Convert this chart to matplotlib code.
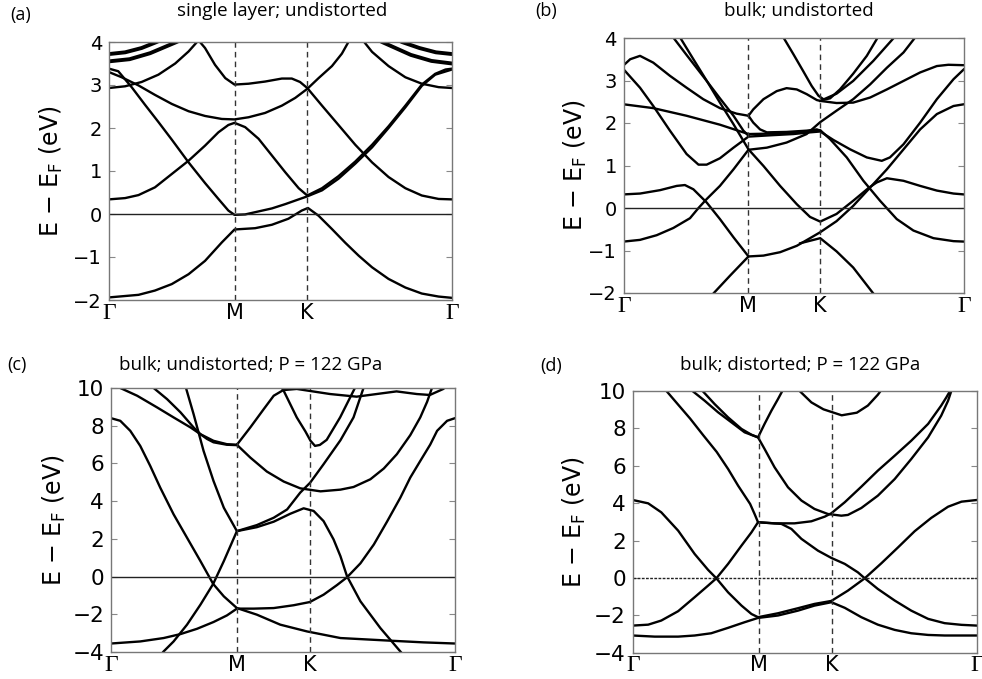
import matplotlib
matplotlib.use("Agg")
import matplotlib.pyplot as plt

# path Γ-M-K-Γ, positions as a fraction of the total path length
k_sym = [0.0, 0.366, 0.578, 1.0]
k_names = ["Γ", "M", "K", "Γ"]

# ---------------- (a) single layer; undistorted ----------------
a_low = ([0, 0.086, 0.134, 0.183, 0.232, 0.280, 0.329, 0.366, 0.426, 0.475, 0.523, 0.562, 0.580,
          0.611, 0.650, 0.689, 0.728, 0.767, 0.815, 0.864, 0.912, 0.961, 1.0],
         [-1.94, -1.88, -1.78, -1.63, -1.40, -1.09, -0.66, -0.36, -0.33, -0.25, -0.11, 0.08, 0.14,
          -0.04, -0.35, -0.67, -0.97, -1.24, -1.51, -1.71, -1.85, -1.92, -1.95])
a_up1 = ([0, 0.047, 0.086, 0.134, 0.183, 0.232, 0.280, 0.319, 0.348, 0.366, 0.397, 0.436, 0.475,
          0.514, 0.553, 0.578, 0.621, 0.669, 0.718, 0.767, 0.815, 0.864, 0.912, 0.951, 0.981, 1.0],
         [0.34, 0.37, 0.44, 0.62, 0.93, 1.24, 1.59, 1.90, 2.07, 2.12, 2.02, 1.75, 1.36,
          0.97, 0.60, 0.43, 0.60, 0.88, 1.22, 1.61, 2.04, 2.52, 3.01, 3.26, 3.36, 3.38])
a_up2 = ([0, 0.027, 0.066, 0.105, 0.144, 0.183, 0.232, 0.280, 0.319, 0.348, 0.366, 0.397, 0.436,
          0.475, 0.514, 0.553, 0.578, 0.621, 0.669, 0.718, 0.767, 0.815, 0.864, 0.912, 0.951, 1.0],
         [3.38, 3.32, 2.95, 2.54, 2.14, 1.73, 1.20, 0.72, 0.35, 0.08, -0.02, -0.01, 0.06,
          0.13, 0.23, 0.34, 0.41, 0.55, 0.82, 1.17, 1.55, 2.00, 2.48, 2.98, 3.24, 3.36])
a_up3 = ([0, 0.037, 0.086, 0.134, 0.183, 0.232, 0.280, 0.329, 0.366, 0.407, 0.455, 0.504, 0.543,
          0.578, 0.611, 0.650, 0.679, 0.698, 0.713],
         [3.30, 3.18, 2.99, 2.77, 2.56, 2.39, 2.28, 2.21, 2.20, 2.25, 2.35, 2.52, 2.70,
          2.91, 3.16, 3.44, 3.73, 4.00, 4.19])
a_up4 = ([0, 0.047, 0.095, 0.144, 0.193, 0.232, 0.261, 0.280, 0.309, 0.339, 0.366, 0.407, 0.455,
          0.504, 0.533, 0.557, 0.578, 0.621, 0.669, 0.718, 0.767, 0.815, 0.864, 0.912, 0.961, 1.0],
         [2.93, 2.97, 3.07, 3.24, 3.50, 3.78, 4.04, 3.86, 3.47, 3.16, 3.01, 3.03, 3.08,
          3.15, 3.15, 3.07, 2.93, 2.52, 2.07, 1.61, 1.20, 0.86, 0.60, 0.43, 0.35, 0.34])
a_up5 = ([1.0, 0.961, 0.912, 0.864, 0.815, 0.767, 0.742, 0.728],
         [2.93, 2.95, 3.03, 3.18, 3.44, 3.77, 4.02, 4.19])
# heavy arcs near Γ at the top of the window
a_arc1 = ([0, 0.047, 0.095, 0.139, 0.160], [3.72, 3.76, 3.86, 4.00, 4.08])
a_arc2 = ([0, 0.060, 0.120, 0.197, 0.215], [3.55, 3.60, 3.74, 4.00, 4.07])
a_arc3 = ([1.0, 0.953, 0.905, 0.854, 0.835], [3.72, 3.76, 3.86, 4.00, 4.08])
a_arc4 = ([1.0, 0.940, 0.880, 0.796, 0.780], [3.50, 3.56, 3.70, 4.00, 4.07])

# ---------------- (b) bulk; undistorted ----------------
b_1 = ([0, 0.019, 0.048, 0.087, 0.136, 0.185, 0.234, 0.283, 0.332, 0.367, 0.381, 0.411, 0.450, 0.479,
        0.509, 0.538, 0.568, 0.578, 0.626, 0.675, 0.725, 0.774, 0.823, 0.872, 0.921, 0.955, 1.0],
       [3.36, 3.50, 3.58, 3.42, 3.11, 2.83, 2.56, 2.35, 2.22, 2.17, 2.32, 2.56, 2.75, 2.82,
        2.79, 2.68, 2.54, 2.52, 2.47, 2.48, 2.60, 2.79, 2.99, 3.19, 3.34, 3.37, 3.36])
b_2 = ([0, 0.048, 0.087, 0.136, 0.185, 0.220, 0.244, 0.283, 0.323, 0.367, 0.430, 0.499, 0.548, 0.578,
        0.617, 0.666, 0.715, 0.759, 0.783, 0.823, 0.872, 0.921, 0.970, 1.0],
       [3.26, 2.83, 2.40, 1.82, 1.27, 1.02, 1.02, 1.17, 1.42, 1.68, 1.71, 1.74, 1.78, 1.80,
        1.60, 1.38, 1.19, 1.11, 1.19, 1.50, 2.01, 2.56, 3.03, 3.26])
b_3 = ([0, 0.087, 0.185, 0.283, 0.367, 0.430, 0.499, 0.558, 0.578, 0.607, 0.656, 0.705, 0.754,
        0.803, 0.852, 0.911, 0.970, 1.0],
       [2.44, 2.35, 2.17, 1.96, 1.74, 1.75, 1.77, 1.82, 1.83, 1.62, 1.19, 0.64, 0.17,
        -0.26, -0.53, -0.71, -0.78, -0.79])
b_s1 = ([0.136, 0.146, 0.185, 0.246, 0.283, 0.323, 0.352, 0.367],
        [4.13, 4.01, 3.60, 2.97, 2.58, 2.17, 1.82, 1.70])
b_s2 = ([0.156, 0.166, 0.205, 0.246, 0.283, 0.323, 0.367, 0.411, 0.460, 0.509, 0.548, 0.578, 0.626,
         0.675, 0.720, 0.744, 0.774, 0.823, 0.872, 0.921, 0.970, 1.0],
        [4.13, 4.01, 3.50, 2.97, 2.48, 1.97, 1.38, 0.99, 0.52, 0.09, -0.21, -0.32, -0.14,
         0.17, 0.47, 0.60, 0.70, 0.64, 0.52, 0.41, 0.34, 0.32])
b_dip = ([0.367, 0.381, 0.401, 0.421, 0.479, 0.538, 0.568, 0.578],
         [2.17, 2.01, 1.85, 1.78, 1.79, 1.82, 1.85, 1.82])
b_0 = ([0, 0.048, 0.097, 0.146, 0.195, 0.220, 0.244, 0.283, 0.323, 0.367, 0.421, 0.479, 0.538, 0.578,
        0.626, 0.675, 0.725, 0.774, 0.823, 0.857, 0.867],
       [-0.79, -0.75, -0.64, -0.47, -0.24, 0.00, 0.21, 0.52, 0.91, 1.37, 1.42, 1.54, 1.74, 2.02,
        2.29, 2.56, 2.91, 3.30, 3.66, 4.01, 4.11])
b_pk = ([0, 0.048, 0.107, 0.156, 0.180, 0.205, 0.244, 0.283, 0.323, 0.367, 0.411, 0.460, 0.509, 0.548,
         0.578, 0.626, 0.675, 0.720, 0.774, 0.823, 0.872, 0.921, 0.970, 1.0],
        [0.32, 0.34, 0.42, 0.52, 0.54, 0.44, 0.13, -0.26, -0.69, -1.14, -1.12, -1.04, -0.89, -0.71,
         -0.57, -0.31, 0.05, 0.44, 0.91, 1.38, 1.85, 2.21, 2.40, 2.44])
b_low1 = ([0.254, 0.264, 0.313, 0.367], [-2.10, -2.01, -1.59, -1.14])
b_low2 = ([0.519, 0.578, 0.626, 0.675, 0.734, 0.744], [-0.83, -0.71, -1.02, -1.40, -2.01, -2.10])
b_par = ([0.465, 0.470, 0.499, 0.528, 0.553, 0.573, 0.589, 0.607, 0.636, 0.675, 0.715, 0.744, 0.750],
         [4.10, 4.01, 3.62, 3.22, 2.87, 2.64, 2.55, 2.58, 2.79, 3.16, 3.58, 3.97, 4.05])
b_e2 = ([0.578, 0.626, 0.675, 0.734, 0.793, 0.803], [2.52, 2.69, 2.99, 3.46, 3.99, 4.09])

# ---------------- (c) bulk; undistorted; P = 122 GPa ----------------
c_1 = ([0, 0.027, 0.056, 0.085, 0.114, 0.143, 0.182, 0.221, 0.260, 0.297, 0.328, 0.366, 0.424,
        0.492, 0.570, 0.667, 0.812, 0.909, 1.0],
       [8.40, 8.26, 7.73, 6.93, 5.87, 4.72, 3.30, 2.06, 0.82, -0.39, -1.05, -1.67, -2.02,
        -2.55, -2.91, -3.26, -3.40, -3.49, -3.55])
c_2 = ([0, 0.085, 0.153, 0.202, 0.250, 0.298, 0.337, 0.366, 0.415, 0.473, 0.531, 0.578, 0.618,
        0.657, 0.686, 0.725, 0.764, 0.802, 0.841, 0.870, 0.899, 0.928, 0.948, 0.977, 1.0],
       [-3.55, -3.44, -3.26, -3.05, -2.77, -2.41, -2.06, -1.70, -1.70, -1.67, -1.52, -1.35, -0.96,
        -0.45, -0.04, 0.70, 1.70, 2.90, 4.18, 5.25, 6.13, 7.00, 7.73, 8.26, 8.40])
c_3 = ([0.143, 0.153, 0.182, 0.221, 0.260, 0.297, 0.328, 0.366, 0.424, 0.473, 0.521, 0.560, 0.589,
        0.618, 0.647, 0.667, 0.686, 0.725, 0.783, 0.841, 0.851],
       [-4.18, -3.97, -3.44, -2.55, -1.49, -0.39, 0.82, 2.41, 2.62, 2.91, 3.33, 3.62, 3.48,
        2.94, 1.97, 1.08, 0.02, -1.31, -2.73, -3.97, -4.18])
c_4 = ([0.013, 0.027, 0.076, 0.134, 0.182, 0.231, 0.260, 0.298, 0.337, 0.366],
       [10.30, 10.0, 9.59, 8.97, 8.44, 7.91, 7.55, 7.20, 7.02, 6.99])
c_5 = ([0.114, 0.124, 0.163, 0.202, 0.240, 0.260, 0.279, 0.298, 0.337, 0.366],
       [10.30, 10.0, 9.41, 8.71, 7.91, 7.55, 7.30, 7.12, 6.99, 6.97])
c_6 = ([0.213, 0.218, 0.240, 0.269, 0.298, 0.328, 0.366, 0.424, 0.473, 0.512, 0.550, 0.579, 0.618,
        0.667, 0.705, 0.734, 0.739],
       [10.30, 10.0, 8.62, 6.67, 5.07, 3.65, 2.41, 2.73, 3.12, 3.56, 4.45, 4.98, 5.96,
        7.23, 8.44, 10.0, 10.27])
c_7 = ([0.366, 0.405, 0.444, 0.473, 0.501, 0.540, 0.637, 0.714, 0.772, 0.830, 0.889, 0.927, 0.966, 0.982],
       [6.99, 7.91, 8.88, 9.59, 9.89, 9.95, 9.68, 9.54, 9.68, 9.82, 9.68, 9.63, 9.95, 10.21])
c_8 = ([0.492, 0.501, 0.540, 0.565, 0.580, 0.593, 0.607, 0.627, 0.666, 0.709, 0.715],
       [10.12, 9.89, 8.44, 7.70, 7.20, 6.93, 6.98, 7.25, 8.44, 10.0, 10.12])
c_9 = ([0.366, 0.405, 0.453, 0.502, 0.550, 0.609, 0.667, 0.705, 0.754, 0.793, 0.831, 0.870, 0.899,
        0.919, 0.933, 0.938],
       [6.99, 6.31, 5.57, 5.04, 4.68, 4.52, 4.61, 4.75, 5.16, 5.73, 6.49, 7.50, 8.44,
        9.27, 10.0, 10.21])

# ---------------- (d) bulk; distorted; P = 122 GPa ----------------
d_1 = ([0, 0.045, 0.083, 0.132, 0.180, 0.219, 0.243, 0.277, 0.316, 0.345, 0.364, 0.422, 0.480, 0.528,
        0.577, 0.625, 0.674, 0.722, 0.771, 0.819, 0.867, 0.916, 0.955, 1.0],
       [4.17, 3.99, 3.51, 2.53, 1.28, 0.43, -0.02, -0.77, -1.48, -1.93, -2.10, -1.89, -1.62, -1.39,
        -1.23, -0.68, -0.02, 0.78, 1.64, 2.50, 3.21, 3.81, 4.08, 4.17])
d_2 = ([0, 0.045, 0.083, 0.132, 0.180, 0.219, 0.243, 0.277, 0.316, 0.345, 0.364, 0.432, 0.461, 0.490,
        0.538, 0.577, 0.616, 0.654, 0.674, 0.712, 0.761, 0.809, 0.858, 0.906, 0.955, 1.0],
       [-2.55, -2.50, -2.28, -1.78, -1.03, -0.41, -0.02, 0.75, 1.73, 2.44, 2.98, 2.89, 2.62, 2.09,
        1.46, 1.07, 0.75, 0.30, -0.02, -0.59, -1.21, -1.75, -2.19, -2.42, -2.51, -2.55])
d_3 = ([0, 0.064, 0.132, 0.180, 0.228, 0.277, 0.325, 0.364, 0.422, 0.480, 0.528, 0.577, 0.616,
        0.664, 0.712, 0.761, 0.809, 0.858, 0.906, 1.0],
       [-3.08, -3.14, -3.14, -3.08, -2.96, -2.67, -2.37, -2.14, -2.01, -1.75, -1.48, -1.30, -1.60,
        -2.10, -2.50, -2.78, -2.96, -3.05, -3.08, -3.08])
d_4 = ([0.088, 0.099, 0.132, 0.167, 0.205, 0.244, 0.277, 0.306, 0.341, 0.354, 0.364, 0.412, 0.470,
        0.519, 0.558, 0.577, 0.616, 0.664, 0.712, 0.761, 0.809, 0.858, 0.896, 0.911, 0.921, 0.930],
       [10.29, 9.98, 9.27, 8.52, 7.63, 6.74, 5.83, 4.94, 3.96, 3.42, 2.98, 2.92, 2.92,
        3.03, 3.28, 3.46, 4.05, 4.88, 5.74, 6.54, 7.34, 8.24, 9.22, 9.66, 9.98, 10.20])
d_5 = ([0.161, 0.175, 0.209, 0.248, 0.287, 0.325, 0.364, 0.383, 0.403, 0.422, 0.434, 0.441],
       [10.29, 9.98, 9.48, 8.86, 8.32, 7.79, 7.52, 8.24, 8.95, 9.57, 9.98, 10.25])
d_6 = ([0.195, 0.204, 0.238, 0.277, 0.316, 0.345, 0.364, 0.383, 0.412, 0.451, 0.490, 0.528, 0.567,
        0.606, 0.625, 0.664, 0.712, 0.761, 0.809, 0.858, 0.896, 0.916, 0.925, 0.935],
       [10.29, 9.98, 9.30, 8.59, 7.97, 7.66, 7.52, 6.90, 5.92, 4.85, 4.14, 3.69, 3.42,
        3.33, 3.37, 3.74, 4.40, 5.29, 6.36, 7.52, 8.68, 9.48, 9.98, 10.20])
d_7 = ([0.475, 0.486, 0.519, 0.554, 0.607, 0.651, 0.683, 0.712, 0.722],
       [10.29, 9.98, 9.39, 9.02, 8.70, 8.84, 9.22, 9.80, 10.05])

panels = [
    dict(label="(a)", title="single layer; undistorted",
         bands=[a_low, a_up1, a_up2, a_up3, a_up4, a_up5],
         heavy=[a_arc1, a_arc2, a_arc3, a_arc4],
         ylim=(-2, 4), yticks=[-2, -1, 0, 1, 2, 3, 4], zero_ls="-",
         rect=(109, 42, 343, 258), ylab_dx=58, lab_xy=(10, 20), tit_xy=(282, 16), fs=14),
    dict(label="(b)", title="bulk; undistorted",
         bands=[b_1, b_2, b_3, b_s1, b_s2, b_dip, b_0, b_pk, b_low1, b_low2, b_par, b_e2],
         heavy=[],
         ylim=(-2, 4), yticks=[-2, -1, 0, 1, 2, 3, 4], zero_ls="-",
         rect=(623.7, 38, 340, 255), ylab_dx=48, lab_xy=(535, 16), tit_xy=(799, 16), fs=14),
    dict(label="(c)", title="bulk; undistorted; P = 122 GPa",
         bands=[c_1, c_2, c_3, c_4, c_5, c_6, c_7, c_8, c_9],
         heavy=[],
         ylim=(-4, 10), yticks=[-4, -2, 0, 2, 4, 6, 8, 10], zero_ls="-",
         rect=(111, 388, 344, 264), ylab_dx=57, lab_xy=(7, 370), tit_xy=(251, 370), fs=15.5),
    dict(label="(d)", title="bulk; distorted; P = 122 GPa",
         bands=[d_1, d_2, d_3, d_4, d_5, d_6, d_7],
         heavy=[],
         ylim=(-4, 10), yticks=[-4, -2, 0, 2, 4, 6, 8, 10], zero_ls=(0, (2, 1)),
         rect=(632.7, 391, 344.3, 261.7), ylab_dx=58, lab_xy=(540, 371), tit_xy=(800, 370), fs=15.5),
]

W, H = 982, 679
fig = plt.figure(figsize=(W / 100, H / 100), dpi=100)
title_font = "Open Sans"

for p in panels:
    x0, y0, w, h = p["rect"]
    ax = fig.add_axes([x0 / W, 1 - (y0 + h) / H, w / W, h / H])

    for k, e in p["bands"]:
        ax.plot(k, e, color="black", lw=1.7, solid_joinstyle="round")
    for k, e in p["heavy"]:
        ax.plot(k, e, color="black", lw=2.8, solid_joinstyle="round")

    ax.axhline(0, color="#222222", lw=1.0, ls=p["zero_ls"])
    for ks in k_sym[1:3]:
        ax.axvline(ks, color="#333333", lw=1.0, ls=(0, (4, 3)))

    ax.set_xlim(0, 1)
    ax.set_ylim(*p["ylim"])
    ax.set_yticks(p["yticks"])
    ax.set_xticks(k_sym)
    ax.set_xticklabels(k_names)
    for lab in ax.get_xticklabels():
        if lab.get_text() == "Γ":
            lab.set_fontfamily("Liberation Serif")
            lab.set_fontsize(17)
        else:
            lab.set_fontsize(15)
    ax.tick_params(axis="x", length=0, pad=2)
    ax.tick_params(axis="y", direction="in", length=4, width=0.8, color="#888888",
                   right=True, labelsize=p["fs"], pad=5)
    for s in ax.spines.values():
        s.set_color("#777777")
        s.set_linewidth(1.0)

    ax.set_ylabel("E − E$_\\mathrm{F}$ (eV)", fontsize=17, va="center")
    ax.yaxis.set_label_coords(-p["ylab_dx"] / w, 0.5)

    lx, ly = p["lab_xy"]
    fig.text(lx / W, 1 - ly / H, p["label"], fontsize=13, family=title_font, va="baseline")
    tx, ty = p["tit_xy"]
    fig.text(tx / W, 1 - ty / H, p["title"], fontsize=13.5, family=title_font,
             ha="center", va="baseline")

fig.savefig("out.png", dpi=100)
